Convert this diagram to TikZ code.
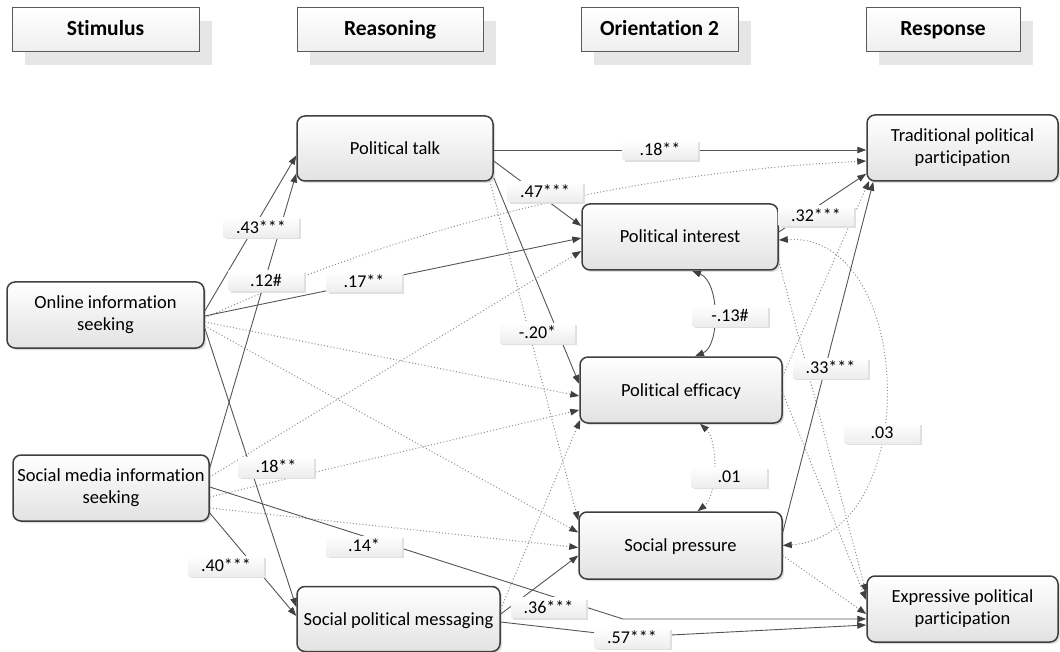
\documentclass[tikz,border=0pt]{standalone}
\usepackage{fontspec}
\setmainfont{Carlito}[Ligatures={NoCommon}]
\usetikzlibrary{arrows.meta,calc,shadows}
\definecolor{boxline}{HTML}{3F3F3F}
\definecolor{boxbottom}{HTML}{E2E2E2}
\definecolor{hdrline}{HTML}{5A5A5A}
\definecolor{hdrbottom}{HTML}{EFEFEF}
\definecolor{hdrshadow}{HTML}{E6E6E6}
\definecolor{lblbottom}{HTML}{EDEDED}
\definecolor{lineclr}{HTML}{555555}
\definecolor{dotclr}{HTML}{8E8E8E}
\definecolor{tipclr}{HTML}{404040}
\begin{document}
\begin{tikzpicture}[x=1pt,y=-1pt,
  mainbox/.style={draw=boxline, line width=1.5pt, rounded corners=8pt, top color=white, bottom color=boxbottom, align=center, inner sep=1pt, font=\fontsize{18.5}{22}\selectfont, drop shadow={shadow xshift=2pt,shadow yshift=-2pt,opacity=.25}},
  oneline/.style={text height=14pt, text depth=2pt},
  hdr/.style={draw=hdrline, line width=.8pt, top color=white, bottom color=hdrbottom, minimum height=44pt, inner sep=0pt, text height=16pt, text depth=2pt, font=\bfseries\fontsize{21.5}{24}\selectfont, drop shadow={shadow xshift=13pt, shadow yshift=-14pt, fill=hdrshadow, opacity=1}},
  lbl/.style={top color=white, bottom color=lblbottom, minimum width=75pt, minimum height=20pt, inner sep=0pt, text height=13pt, text depth=1.5pt, font=\fontsize{18}{20}\selectfont, drop shadow={shadow xshift=2pt, shadow yshift=-2pt, fill=black!12, opacity=1}},
  tip/.tip={Triangle[length=9pt,width=6.5pt,color=tipclr]},
  sarr/.style={draw=lineclr, line width=.9pt, -tip},
  sdbl/.style={draw=lineclr, line width=.9pt, tip-tip},
  darr/.style={draw=dotclr, line width=1pt, dash pattern=on 1pt off 2.2pt, -tip},
  ddbl/.style={draw=dotclr, line width=1pt, dash pattern=on 1pt off 2.2pt, tip-tip}
]
\useasboundingbox (0,0) rectangle (1060,652);

% headers
\node[hdr, minimum width=187pt] (hstim) at (105.5,29) {Stimulus};
\node[hdr, minimum width=186pt] (hreas) at (390,29) {Reasoning};
\node[hdr, minimum width=157pt] (horient) at (659.5,29) {Orientation 2};
\node[hdr, minimum width=154pt] (hresp) at (943,29) {Response};

% main boxes
\node[mainbox, oneline, minimum width=196pt, minimum height=65pt] (talk) at (395,148.5) {Political talk};
\node[mainbox, minimum width=191pt, minimum height=66pt] (trad) at (962.5,148) {Traditional political\\participation};
\node[mainbox, oneline, minimum width=196pt, minimum height=66pt] (interest) at (680,237) {Political interest};
\node[mainbox, minimum width=197pt, minimum height=66pt] (online) at (105.5,315) {Online information\\seeking};
\node[mainbox, oneline, minimum width=202pt, minimum height=66pt] (efficacy) at (681,390) {Political efficacy};
\node[mainbox, minimum width=196pt, minimum height=66pt] (social) at (111,488) {Social media information\\seeking};
\node[mainbox, oneline, minimum width=203pt, minimum height=67pt] (pressure) at (680.5,545.5) {Social pressure};
\node[mainbox, oneline, minimum width=203pt, minimum height=65pt] (messaging) at (398.5,619) {Social political messaging};
\node[mainbox, minimum width=191pt, minimum height=66pt] (expressive) at (962.5,609) {Expressive political\\participation};

\coordinate (k14) at (623,619);
\coordinate (k57) at (632,637);

% dotted paths
\draw[darr] ($(online.east)+(0,3)$) .. controls (405,226) and (625,173) .. ($(trad.west)+(0,13)$);
\draw[darr] ($(online.east)+(0,7)$) -- ($(efficacy.west)+(0,6)$);
\draw[darr] ($(online.east)+(0,11)$) -- ($(pressure.west)+(0,-13)$);
\draw[darr] ($(social.east)+(0,-11)$) -- ($(interest.west)+(0,14)$);
\draw[darr] ($(social.east)+(0,9)$) -- ($(efficacy.west)+(0,20)$);
\draw[darr] ($(social.east)+(0,20)$) -- ($(pressure.west)+(0,2)$);
\draw[darr] ($(talk.south east)+(-4,-1)$) -- ($(pressure.west)+(0,-25)$);
\draw[darr] ($(messaging.east)+(0,-10)$) -- ($(efficacy.south west)+(1,-4)$);
\draw[darr] ($(interest.east)+(0,24)$) -- ($(expressive.west)+(0,-16)$);
\draw[darr] ($(efficacy.east)+(0,-14)$) -- ($(trad.south west)+(3,-1)$);
\draw[darr] ($(efficacy.east)+(0,3)$) -- ($(expressive.west)+(0,-9)$);
\draw[darr] ($(pressure.east)+(0,10)$) -- ($(expressive.west)+(0,5)$);
\draw[ddbl] ($(efficacy.south)+(19,0)$) .. controls (718,440) and (718,495) .. ($(pressure.north)+(17,0)$);
\draw[ddbl] ($(interest.east)+(0,3)$) .. controls (915,232) and (925,535) .. (pressure.east);

% solid paths
\draw[sarr] ($(online.east)+(0,-4)$) -- ($(talk.west)+(0,7)$);
\draw[sarr] ($(social.east)+(0,-20)$) -- ($(talk.west)+(0,25)$);
\draw[sarr] ($(online.east)+(0,1)$) -- ($(interest.west)+(0,1)$);
\draw[sarr] ($(online.east)+(0,13)$) -- ($(messaging.west)+(0,-12)$);
\draw[sarr] ($(social.east)+(0,25)$) -- ($(messaging.west)+(0,-3)$);
\draw[sarr] ($(social.east)+(0,-1)$) -- (k14) -- ($(expressive.west)+(0,10)$);
\draw[sarr] ($(messaging.east)+(0,3)$) -- (k57) -- ($(expressive.west)+(0,16)$);
\draw[sarr] ($(messaging.east)+(0,-5)$) -- ($(pressure.west)+(0,10)$);
\draw[sarr] ($(talk.east)+(0,1.5)$) -- ($(trad.west)+(0,2)$);
\draw[sarr] ($(talk.east)+(0,12.5)$) -- ($(interest.west)+(0,-11)$);
\draw[sarr] ($(talk.south east)+(0,-4)$) -- ($(efficacy.west)+(0,-6)$);
\draw[sarr] ($(interest.east)+(0,-5)$) -- ($(trad.south west)+(0,-8)$);
\draw[sarr] ($(pressure.east)+(0,-13)$) -- ($(trad.south west)+(7,0)$);
\draw[sdbl] ($(interest.south)+(12,0)$) .. controls (720,282) and (720,346) .. ($(efficacy.north)+(14,0)$);

% labels
\node[lbl] (l43) at (261,227.5) {.43***};
\node[lbl] (l12) at (266,281) {.12\#};
\node[lbl] (l17) at (364,282) {.17**};
\node[lbl] (l18a) at (276,467) {.18**};
\node[lbl] (l40) at (226,566) {.40***};
\node[lbl] (l14) at (364,546) {.14*};
\node[lbl] (l36) at (548.5,607.5) {.36***};
\node[lbl] (l57) at (632,638) {.57***};
\node[lbl] (l18b) at (660,150) {.18**};
\node[lbl] (l47) at (545,192) {.47***};
\node[lbl] (l20) at (537.5,333) {-.20*};
\node[lbl] (l32) at (816,216) {.32***};
\node[lbl] (l33) at (830.5,368) {.33***};
\node[lbl] (l13) at (730,316) {-.13\#};
\node[lbl] (l01) at (729,477) {.01};
\node[lbl] (l03) at (882,433) {.03};
\end{tikzpicture}
\end{document}
